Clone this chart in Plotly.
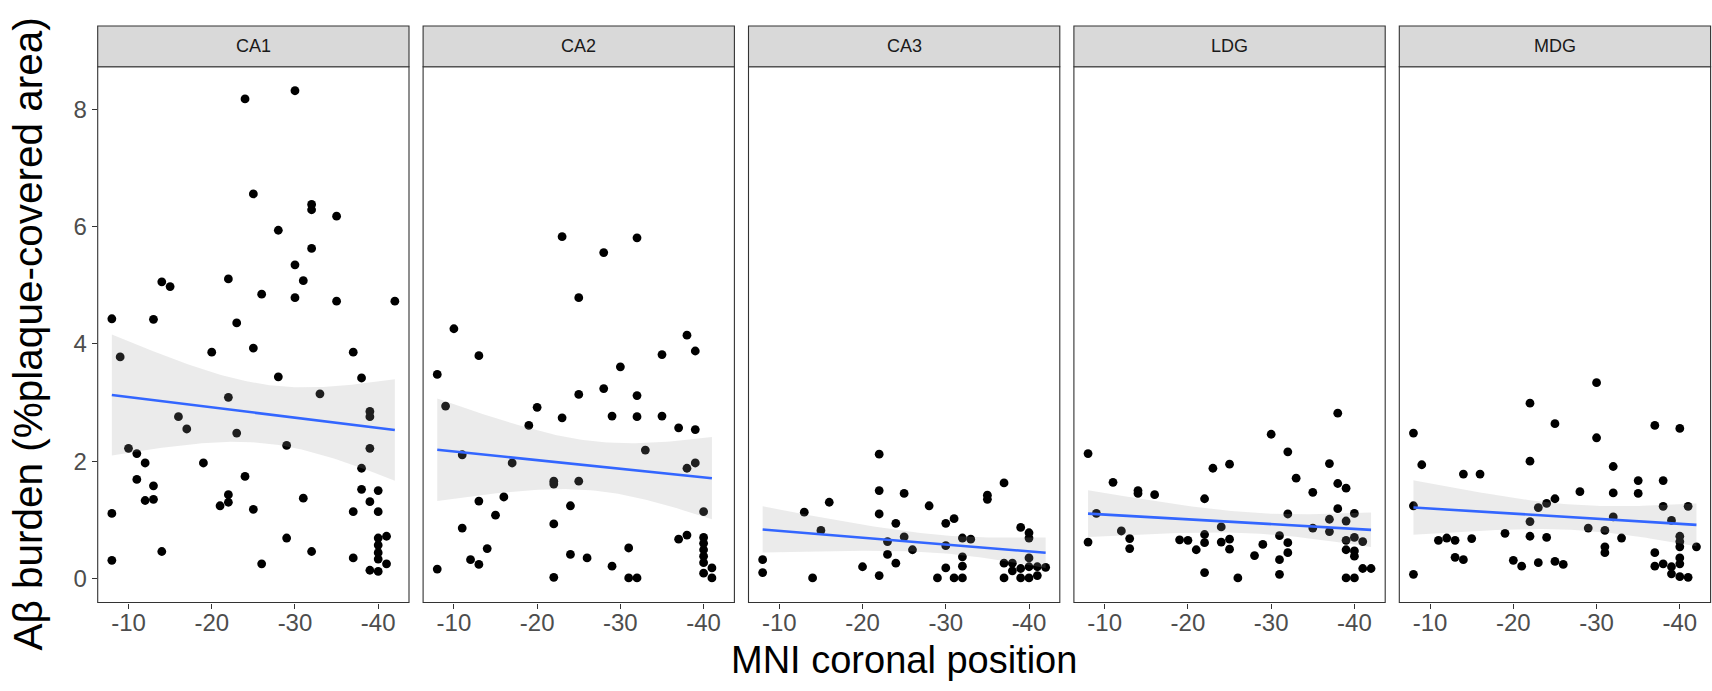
import numpy as np
import plotly.graph_objects as go

# ---------------- data ----------------
regions = ["CA1", "CA2", "CA3", "LDG", "MDG"]

ca1_x = [-24, -30, -25, -32, -32, -35, -28, -32, -30, -31, -14, -15, -22, -26, -30, -35, -42, -8, -13, -23,
         -9, -20, -25, -37, -28, -38, -22, -33, -39, -39, -16, -17, -23, -29, -39, -10, -11, -12, -19, -38,
         -11, -24, -13, -38, -40, -22, -22, -21, -12, -13, -31, -39, -8, -25, -37, -40, -29, -40, -41, -40,
         -40, -40, -14, -32, -37, -8, -26, -41, -39, -40]
ca1_y = [8.18, 8.32, 6.56, 6.38, 6.29, 6.18, 5.94, 5.63, 5.35, 5.08, 5.06, 4.98, 5.11, 4.85, 4.79, 4.73, 4.73, 4.43, 4.42, 4.36,
         3.78, 3.86, 3.93, 3.86, 3.44, 3.42, 3.09, 3.15, 2.85, 2.76, 2.76, 2.55, 2.48, 2.27, 2.22, 2.22, 2.13, 1.97, 1.97, 1.88,
         1.69, 1.74, 1.58, 1.52, 1.50, 1.43, 1.30, 1.24, 1.33, 1.35, 1.37, 1.31, 1.11, 1.18, 1.14, 1.14, 0.69, 0.69, 0.72, 0.57,
         0.44, 0.33, 0.46, 0.46, 0.35, 0.31, 0.25, 0.25, 0.14, 0.12]

ca2_x = [-23, -32, -28, -25, -10, -38, -39, -13, -35, -30, -8, -28, -25, -32, -9, -20, -23, -29, -32, -35,
         -19, -37, -39, -33, -11, -17, -39, -38, -22, -22, -25, -13, -16, -24, -15, -40, -11, -22, -37, -38,
         -40, -40, -40, -40, -40, -40, -14, -31, -12, -13, -24, -26, -29, -8, -41, -22, -31, -32, -41]
ca2_y = [5.83, 5.81, 5.56, 4.79, 4.26, 4.15, 3.88, 3.80, 3.82, 3.61, 3.48, 3.24, 3.14, 3.12, 2.94, 2.92, 2.74, 2.77, 2.76, 2.77,
         2.61, 2.57, 2.54, 2.19, 2.11, 1.97, 1.97, 1.88, 1.66, 1.61, 1.66, 1.32, 1.39, 1.24, 1.08, 1.14, 0.86, 0.93, 0.67, 0.74,
         0.70, 0.60, 0.49, 0.38, 0.27, 0.09, 0.51, 0.52, 0.32, 0.24, 0.41, 0.35, 0.21, 0.16, 0.18, 0.02, 0.01, 0.01, 0.01]

ca3_x = [-22, -22, -25, -37, -35, -35, -16, -28, -13, -22, -24, -30, -31, -15, -39, -40, -40, -32, -33, -25,
         -23, -26, -30, -23, -8, -32, -40, -20, -24, -30, -32, -37, -38, -38, -39, -40, -41, -42, -8, -14,
         -22, -29, -31, -32, -37, -39, -40, -41]
ca3_y = [2.12, 1.50, 1.45, 1.63, 1.42, 1.35, 1.30, 1.24, 1.13, 1.10, 0.94, 0.94, 1.02, 0.82, 0.87, 0.78, 0.69, 0.69, 0.67, 0.71,
         0.63, 0.49, 0.56, 0.41, 0.32, 0.37, 0.35, 0.20, 0.26, 0.18, 0.21, 0.26, 0.26, 0.13, 0.17, 0.20, 0.20, 0.19, 0.10, 0.01,
         0.05, 0.01, 0.01, 0.01, 0.01, 0.01, 0.01, 0.05]

ldg_x = [-38, -30, -32, -8, -25, -23, -37, -11, -33, -14, -14, -16, -38, -39, -35, -22, -38, -9, -32, -40,
         -37, -39, -24, -35, -12, -37, -22, -31, -13, -19, -20, -39, -40, -41, -8, -22, -24, -25, -32, -13,
         -21, -25, -29, -39, -40, -40, -32, -28, -31, -41, -42, -22, -31, -26, -39, -40]
ldg_y = [2.82, 2.46, 2.16, 2.13, 1.95, 1.88, 1.96, 1.64, 1.71, 1.50, 1.45, 1.43, 1.62, 1.54, 1.47, 1.36, 1.19, 1.11, 1.10, 1.11,
         1.01, 0.98, 0.88, 0.86, 0.81, 0.80, 0.75, 0.73, 0.68, 0.66, 0.65, 0.65, 0.70, 0.63, 0.62, 0.61, 0.62, 0.67, 0.61, 0.51,
         0.49, 0.50, 0.58, 0.49, 0.47, 0.38, 0.44, 0.39, 0.32, 0.17, 0.17, 0.10, 0.07, 0.01, 0.01, 0.01]

mdg_x = [-30, -22, -25, -37, -40, -8, -30, -9, -22, -32, -14, -16, -35, -38, -28, -32, -35, -25, -24, -23,
         -8, -38, -41, -32, -39, -22, -29, -31, -19, -22, -24, -40, -40, -40, -33, -11, -12, -13, -15, -42,
         -31, -31, -37, -13, -14, -40, -40, -20, -21, -23, -25, -26, -37, -38, -39, -39, -40, -41, -8]
mdg_y = [3.34, 2.99, 2.64, 2.61, 2.56, 2.48, 2.40, 1.94, 2.00, 1.91, 1.78, 1.78, 1.67, 1.67, 1.48, 1.46, 1.45, 1.36, 1.28, 1.21,
         1.24, 1.23, 1.23, 1.05, 0.99, 0.97, 0.86, 0.82, 0.77, 0.72, 0.70, 0.72, 0.63, 0.54, 0.69, 0.65, 0.69, 0.65, 0.68, 0.54,
         0.54, 0.44, 0.44, 0.36, 0.32, 0.35, 0.25, 0.31, 0.21, 0.27, 0.29, 0.24, 0.21, 0.25, 0.20, 0.08, 0.03, 0.02, 0.07]

x_ticks = [-10, -20, -30, -40]
y_ticks = [0, 2, 4, 6, 8]
y_title = "Aβ burden (%plaque-covered area)"
x_title = "MNI coronal position"

panel_x = [ca1_x, ca2_x, ca3_x, ldg_x, mdg_x]
panel_y = [ca1_y, ca2_y, ca3_y, ldg_y, mdg_y]

# ---------------- layout constants ----------------
W, H = 1712, 691
LEFT0, PW, GAP = 97.7, 311.3, 14.1
TOP, BOTTOM, STRIP_TOP = 66.7, 602.5, 26.0
FONT = "Arial, 'Liberation Sans', sans-serif"
XR = [-6.3, -43.7]
YR = [-0.41, 8.73]


def t_quantile(df, z=1.959964):
    return z + (z**3 + z) / (4 * df) + (5 * z**5 + 16 * z**3 + 3 * z) / (96 * df**2)


def lm_band(x, y, n_out=80):
    x = np.asarray(x, float)
    y = np.asarray(y, float)
    n = len(x)
    b1, b0 = np.polyfit(x, y, 1)
    resid = y - (b0 + b1 * x)
    s = np.sqrt(np.sum(resid**2) / (n - 2))
    xbar = x.mean()
    sxx = np.sum((x - xbar) ** 2)
    xs = np.linspace(x.min(), x.max(), n_out)
    fit = b0 + b1 * xs
    se = s * np.sqrt(1.0 / n + (xs - xbar) ** 2 / sxx)
    t = t_quantile(n - 2)
    return xs, fit, fit - t * se, fit + t * se


fig = go.Figure()
shapes = []
annotations = []
y_dom = [1 - BOTTOM / H, 1 - TOP / H]

for i, name in enumerate(regions):
    ax = "" if i == 0 else str(i + 1)
    xa, ya = "x" + ax, "y" + ax
    px0 = LEFT0 + i * (PW + GAP)
    d0, d1 = px0 / W, (px0 + PW) / W

    fig.add_trace(go.Scatter(
        x=panel_x[i], y=panel_y[i], mode="markers",
        marker=dict(color="black", size=8.8, line=dict(width=0)),
        xaxis=xa, yaxis=ya, hoverinfo="x+y"))

    xs, fit, lo, hi = lm_band(panel_x[i], panel_y[i])
    fig.add_trace(go.Scatter(
        x=np.concatenate([xs, xs[::-1]]), y=np.concatenate([hi, lo[::-1]]),
        fill="toself", fillcolor="rgba(153,153,153,0.2)", line=dict(width=0),
        mode="lines", xaxis=xa, yaxis=ya, hoverinfo="skip"))
    fig.add_trace(go.Scatter(
        x=xs, y=fit, mode="lines", line=dict(color="#3366FF", width=2.6),
        xaxis=xa, yaxis=ya, hoverinfo="skip"))

    fig.layout["xaxis" + ax] = dict(
        domain=[d0, d1], range=XR, anchor=ya, tickvals=x_ticks,
        ticktext=[str(v) for v in x_ticks], ticks="outside", ticklen=5,
        tickwidth=1.1, tickcolor="#333333", showgrid=False, zeroline=False,
        showline=False, tickfont=dict(family=FONT, size=24, color="#4D4D4D"),
        ticklabelstandoff=-6, fixedrange=True)
    fig.layout["yaxis" + ax] = dict(
        domain=y_dom, range=YR, anchor=xa, tickvals=y_ticks,
        ticktext=[str(v) for v in y_ticks], showgrid=False, zeroline=False,
        showline=False, ticks="outside" if i == 0 else "", ticklen=5,
        tickwidth=1.1, tickcolor="#333333", showticklabels=(i == 0),
        tickfont=dict(family=FONT, size=24, color="#4D4D4D"), fixedrange=True)

    # panel border
    shapes.append(dict(type="rect", xref="paper", yref="paper", x0=d0, x1=d1,
                       y0=y_dom[0], y1=y_dom[1], line=dict(color="#333333", width=1.1),
                       fillcolor="rgba(0,0,0,0)", layer="above"))
    # strip
    shapes.append(dict(type="rect", xref="paper", yref="paper", x0=d0, x1=d1,
                       y0=y_dom[1], y1=1 - STRIP_TOP / H, line=dict(color="#333333", width=1.1),
                       fillcolor="#D9D9D9", layer="above"))
    annotations.append(dict(text=name, xref="paper", yref="paper", x=(d0 + d1) / 2,
                            y=1 - (STRIP_TOP + TOP) / 2 / H, showarrow=False,
                            xanchor="center", yanchor="middle",
                            font=dict(family=FONT, size=18, color="#1A1A1A")))

annotations.append(dict(text=x_title, xref="paper", yref="paper",
                        x=(LEFT0 + (LEFT0 + 5 * PW + 4 * GAP)) / 2 / W, y=1 - 660 / H,
                        showarrow=False, xanchor="center", yanchor="middle",
                        font=dict(family=FONT, size=38, color="black")))
annotations.append(dict(text=y_title, xref="paper", yref="paper",
                        x=28 / W, y=1 - (TOP + BOTTOM) / 2 / H, textangle=-90,
                        showarrow=False, xanchor="center", yanchor="middle",
                        font=dict(family=FONT, size=40.5, color="black")))

fig.update_layout(width=W, height=H, margin=dict(l=0, r=0, t=0, b=0),
                  plot_bgcolor="white", paper_bgcolor="white", showlegend=False,
                  shapes=shapes, annotations=annotations)

fig.write_html("out.html")
